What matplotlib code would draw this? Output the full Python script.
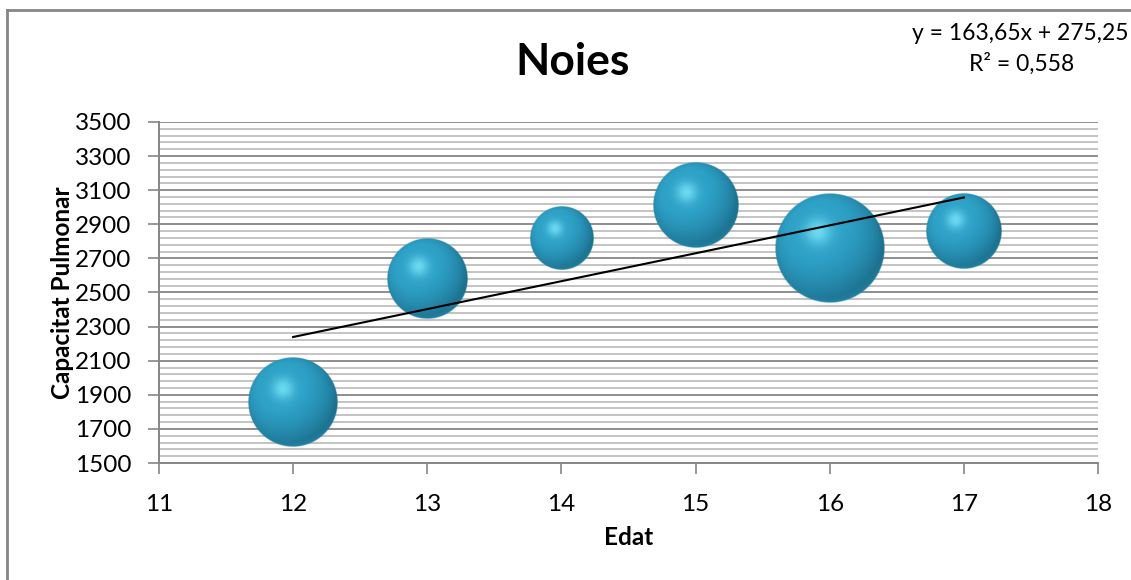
import numpy as np
import matplotlib
matplotlib.use('Agg')
import matplotlib.pyplot as plt
from matplotlib.lines import Line2D
from matplotlib.ticker import FixedLocator

plt.rcParams['font.family'] = ['Lato', 'DejaVu Sans']

# Dades: edat, capacitat pulmonar i mida de la bombolla
edat = [12, 13, 14, 15, 16, 17]
capacitat = [1860, 2580, 2820, 3010, 2760, 2860]
mida = [20, 16, 10, 18, 30, 14]

# Línia de tendència (Excel)
pendent = 163.65
ordenada = 275.25
r2 = 0.558


def sphere_rgba(n=220):
    # imatge RGBA d'una esfera amb llum des de dalt a l'esquerra
    u = np.linspace(-1, 1, n)
    U, V = np.meshgrid(u, u)
    rr = np.sqrt(U**2 + V**2)
    Z = np.sqrt(np.clip(1 - rr**2, 0, 1))
    L = np.array([-0.3, 0.4, 0.87])
    L = L / np.linalg.norm(L)
    diff = np.clip(U * L[0] + V * L[1] + Z * L[2], 0, 1)
    base = np.array([0.18, 0.63, 0.78])
    dark = np.array([0.07, 0.33, 0.43])
    light = np.array([0.50, 0.93, 1.0])
    s = np.clip(0.38 + 0.75 * diff, 0, 1)[..., None]
    rgb = dark * (1 - s) + base * s
    spec = np.exp(-((U + 0.22)**2 + (V - 0.3)**2) / 0.06)[..., None]
    rgb = rgb * (1 - 0.75 * spec) + light * 0.75 * spec
    rim = (np.clip(-V - 0.2, 0, 1) * (1 - Z)**2)[..., None] * 0.7
    rgb = rgb * (1 - rim) + base * rim
    alpha = np.clip((1 - rr) * n / 2, 0, 1)
    return np.dstack([np.clip(rgb, 0, 1), alpha])


def shadow_rgba(n=120):
    u = np.linspace(-1, 1, n)
    U, V = np.meshgrid(u, u)
    d = U**2 + V**2
    a = np.clip(1 - d, 0, 1)**2 * 0.4
    img = np.zeros((n, n, 4))
    img[..., :3] = 0.35
    img[..., 3] = a
    return img


fig = plt.figure(figsize=(11.31, 5.80), dpi=100)
ax = fig.add_axes([0.1406, 0.2017, 0.8302, 0.588])
ax.set_xlim(11, 18)
ax.set_ylim(1500, 3500)
ax.yaxis.set_major_locator(FixedLocator(np.arange(1500, 3501, 200)))
ax.yaxis.set_minor_locator(FixedLocator(np.arange(1500, 3501, 40)))
ax.xaxis.set_major_locator(FixedLocator(np.arange(11, 19)))
ax.grid(axis='y', which='minor', color='#c4c4c4', lw=1.4, zorder=0)
ax.grid(axis='y', which='major', color='#8e8e8e', lw=1.4, zorder=0)
ax.tick_params(axis='y', which='minor', length=0)
ax.tick_params(axis='both', which='major', labelsize=17.5, color='#868686',
               length=8, width=1.2)
ax.tick_params(axis='x', pad=14)
ax.tick_params(axis='y', pad=12)
for side in ['top', 'right']:
    ax.spines[side].set_visible(False)
for side in ['left', 'bottom']:
    ax.spines[side].set_color('#868686')
    ax.spines[side].set_linewidth(1.4)

# escala píxels per unitat de dades
fig.canvas.draw()
p0 = ax.transData.transform((11, 1500))
p1 = ax.transData.transform((12, 1700))
px_x = p1[0] - p0[0]
px_y = (p1[1] - p0[1]) / 200.0

esfera = sphere_rgba()
ombra = shadow_rgba()
for x, y, m in zip(edat, capacitat, mida):
    r = 10.04 * np.sqrt(m)
    dx = r / px_x
    dy = r / px_y
    ax.imshow(ombra, extent=[x - 1.05 * dx, x + 1.05 * dx,
                             y - 1.18 * dy, y + 0.7 * dy],
              origin='lower', interpolation='bilinear', zorder=2, aspect='auto')
    ax.imshow(esfera, extent=[x - dx, x + dx, y - dy, y + dy],
              origin='lower', interpolation='bilinear', zorder=3, aspect='auto')

xs = np.array([min(edat), max(edat)])
ax.plot(xs, pendent * xs + ordenada, color='black', lw=1.5, zorder=4)
ax.set_xlim(11, 18)
ax.set_ylim(1500, 3500)

ax.set_xlabel('Edat', fontsize=17.5, fontweight='bold', labelpad=8)
ax.set_ylabel('Capacitat Pulmonar', fontsize=17.5, fontweight='bold',
              va='center')
ax.yaxis.set_label_coords(-0.1033, 0.5)
fig.text(573 / 1131, 1 - 62 / 580, 'Noies', fontsize=32, fontweight='bold',
         ha='center', va='center')
fig.text(912 / 1131, 1 - 33 / 580, 'y = 163,65x + 275,25', fontsize=16.5,
         ha='left', va='center')
fig.text(1022 / 1131, 1 - 64 / 580, 'R² = 0,558', fontsize=16.5,
         ha='center', va='center')

# vora del gràfic
fig.add_artist(Line2D([7 / 1131, 7 / 1131], [0, 1 - 10 / 580],
                      transform=fig.transFigure, color='#868686', lw=2))
fig.add_artist(Line2D([7 / 1131, 1], [1 - 10 / 580, 1 - 10 / 580],
                      transform=fig.transFigure, color='#868686', lw=2))

fig.savefig('out.png', dpi=100)
